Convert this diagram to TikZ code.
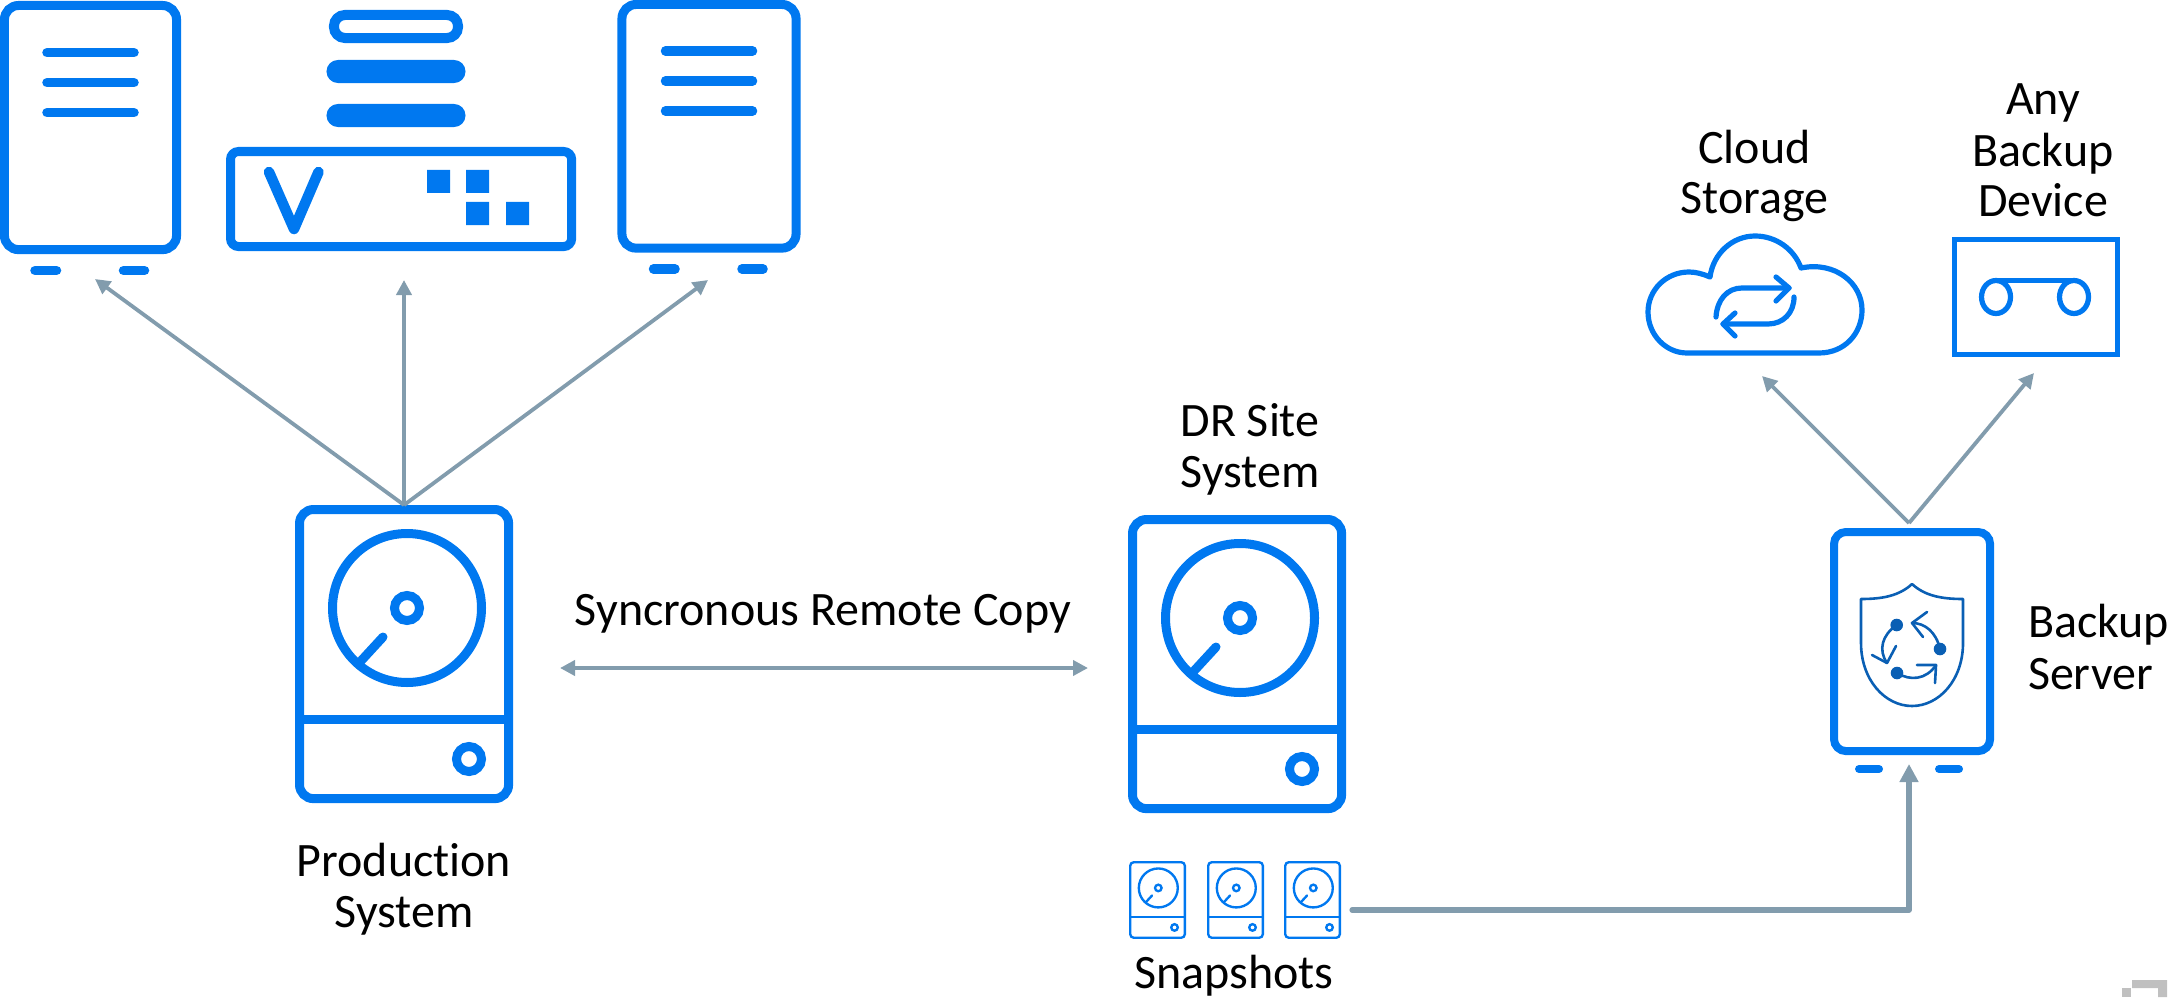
\documentclass[tikz,border=0pt]{standalone}
\usepackage{fontspec}
\setmainfont[Ligatures={NoCommon}]{Carlito}
\usetikzlibrary{arrows.meta}
\definecolor{iconblue}{HTML}{0078F0}
\definecolor{linkgray}{HTML}{829CAD}
\definecolor{shieldblue}{HTML}{0A5FB4}
\definecolor{markgray}{HTML}{C0C0C0}
\def\px{0.2845pt}
\tikzset{
  x=0.01cm,y=-0.01cm,
  iconline/.style={draw=iconblue,line width=9*\px},
  iconbox/.style={draw=iconblue,line width=9*\px,rounded corners=14*\px,inner sep=0pt,outer sep=0pt},
  bar/.style={draw=iconblue,line width=9.5*\px,line cap=round},
  thinicon/.style={draw=iconblue,line width=5.2*\px,line cap=round,line join=round},
  shieldline/.style={draw=shieldblue,line width=2.6*\px,line cap=round,line join=round},
  conn/.style={draw=linkgray,line width=3.8*\px,-{Triangle[length=15*\px,width=15*\px]}},
  conntwo/.style={draw=linkgray,line width=3.8*\px,{Triangle[length=15*\px,width=15*\px]}-{Triangle[length=15*\px,width=15*\px]}},
  connthick/.style={draw=linkgray,line width=5.2*\px,line cap=round,line join=round,-{Triangle[length=18*\px,width=18*\px]}},
  lbl/.style={font=\fontsize{13.65pt}{14.5pt}\selectfont,text=black,align=center,inner sep=0pt,outer sep=0pt},
}
% name, left x, top y (outer edge), scale
\newcommand{\diskicon}[4]{%
  \node[iconbox,line width=#4*9*\px,rounded corners=#4*14*\px,outer sep=#4*4.5*\px,minimum width=#4*209*\px,minimum height=#4*289*\px,anchor=north west] (#1) at (#2,#3) {};
  \begin{scope}[shift={(#2,#3)},iconblue,line width=#4*9*\px]
    \draw ({#4*112},{#4*103}) circle ({#4*74.5});
    \draw ({#4*112},{#4*103}) circle ({#4*12.5});
    \draw[line cap=round] ({#4*65},{#4*157}) -- ({#4*88},{#4*132});
    \draw ({#4*4.5},{#4*214}) -- ({#4*213.5},{#4*214});
    \draw ({#4*174},{#4*254}) circle ({#4*12.5});
  \end{scope}}
\newcommand{\towericon}[6]{% name, centre x, top y stroke, bottom y stroke, first line y, box width
  \node[iconbox,minimum width=#6*\px,minimum height={(#4-#3)*\px},anchor=north] (#1) at (#2,#3) {};
  \draw[bar] ({#2-43.5},#5) -- ({#2+43.5},#5);
  \draw[bar] ({#2-43.5},{#5+30}) -- ({#2+43.5},{#5+30});
  \draw[bar] ({#2-43.5},{#5+60}) -- ({#2+43.5},{#5+60});
  \draw[bar] ({#2-55.5},{#4+21}) -- ({#2-34},{#4+21});
  \draw[bar] ({#2+33},{#4+21}) -- ({#2+54},{#4+21});}
\begin{document}
\begin{tikzpicture}
\useasboundingbox (0,0) rectangle (2170,997);
% servers
\towericon{serverA}{90.5}{5.5}{249.5}{52.7}{172}
\towericon{serverB}{709}{4.5}{248}{51}{174}
% storage appliance
\node[iconbox,rounded corners=8*\px,minimum width=341*\px,minimum height=95*\px,anchor=north west] (array) at (230.5,151.5) {};
\draw[iconblue,line width=10.5*\px,line cap=round,line join=round] (269,172) -- (294,229) -- (318.5,172);
\fill[iconblue] (427,170) rectangle (450,193) (466,170) rectangle (489,193) (466,202) rectangle (489,225) (506,202) rectangle (529,225);
\node[draw=iconblue,line width=10*\px,rounded corners=11*\px,inner sep=0pt,outer sep=0pt,minimum width=124*\px,minimum height=23*\px] (pillA) at (396,26.5) {};
\node[fill=iconblue,rounded corners=11.5*\px,inner sep=0pt,outer sep=0pt,minimum width=139*\px,minimum height=23*\px] (pillB) at (396,71.5) {};
\node[fill=iconblue,rounded corners=11.5*\px,inner sep=0pt,outer sep=0pt,minimum width=139*\px,minimum height=23*\px] (pillC) at (396,115.5) {};
% disks
\diskicon{prod}{295}{505}{1}
\diskicon{dr}{1128}{515}{1}
\diskicon{snapA}{1129}{861}{0.2615}
\diskicon{snapB}{1207}{861}{0.2615}
\diskicon{snapC}{1284}{861}{0.2615}
% backup server
\node[iconbox,line width=8*\px,rounded corners=12*\px,minimum width=156*\px,minimum height=219*\px,anchor=north west] (backup) at (1834,532) {};
\draw[iconblue,line width=8*\px,line cap=round] (1859,769) -- (1879,769);
\draw[iconblue,line width=8*\px,line cap=round] (1939,769) -- (1959,769);
\draw[shieldline] (1912,584) .. controls (1899,596) and (1882,599) .. (1861,599) -- (1861,643) .. controls (1861,680) and (1885,706) .. (1912,706) .. controls (1939,706) and (1963,680) .. (1963,643) -- (1963,599) .. controls (1942,599) and (1925,596) .. (1912,584) -- cycle;
\fill[shieldblue] (1896.7,625) circle (6.3) (1940,649) circle (6.3) (1897,673) circle (6.3);
\draw[shieldline] (1896.7,625) .. controls (1882,635) and (1878,650) .. (1887,663);
\draw[shieldline] (1872,655) -- (1887,663) -- (1896,646);
\draw[shieldline] (1940,649) .. controls (1936,632) and (1925,623) .. (1912,623);
\draw[shieldline] (1927,612) -- (1912,623) -- (1923,637);
\draw[shieldline] (1897,673) .. controls (1910,681) and (1926,680) .. (1936,665);
\draw[shieldline] (1917,665) -- (1936,665) -- (1935,683);
% cloud
\draw[thinicon] (1687,353) -- (1819,353) .. controls (1845,353) and (1862,333) .. (1862,310) .. controls (1862,283) and (1835,261) .. (1801,268) .. controls (1794,249) and (1776,236) .. (1755,236) .. controls (1732,236) and (1713,254) .. (1710,277) .. controls (1703,274) and (1696,272) .. (1689,272) .. controls (1666,272) and (1648,290) .. (1648,312) .. controls (1648,335) and (1666,353) .. (1687,353) -- cycle;
\draw[thinicon] (1716,317) .. controls (1717,300) and (1727,288) .. (1742,288) -- (1789,288);
\draw[thinicon] (1776,277) -- (1789,288) -- (1776,301);
\draw[thinicon] (1794,297) .. controls (1794,313) and (1783,324) .. (1768,324) -- (1723,324);
\draw[thinicon] (1735,313) -- (1723,324) -- (1735,336);
% tape device
\node[draw=iconblue,line width=5.2*\px,inner sep=0pt,outer sep=0pt,minimum width=163*\px,minimum height=115*\px,anchor=north west] (tape) at (1954.5,239.5) {};
\draw[thinicon] (1996,297) ellipse (14.5 and 16.5);
\draw[thinicon] (2074,297) ellipse (14.5 and 16.5);
\draw[thinicon] (1996,280.5) -- (2074,280.5);
% connector ends
\coordinate (tipA) at (95,279);
\coordinate (tipB) at (404,280);
\coordinate (tipC) at (708,280);
\coordinate (linkL) at (560,668);
\coordinate (linkR) at (1088,668);
\coordinate (backupTop) at (1909,523);
\coordinate (tipCloud) at (1762,376);
\coordinate (tipTape) at (2034,373);
\coordinate (snapOut) at (1352,910);
\coordinate (backupIn) at (1909,764);
\draw[conn] (prod.north) -- (tipA);
\draw[conn] (prod.north) -- (tipB);
\draw[conn] (prod.north) -- (tipC);
\draw[conntwo] (linkL) -- (linkR);
\draw[conn] (backupTop) -- (tipCloud);
\draw[conn] (backupTop) -- (tipTape);
\draw[connthick] (snapOut) -| (backupIn);
% labels
\node[lbl,anchor=base] (lblProdA) at (404,876) {Production};
\node[lbl,anchor=base] (lblProdB) at (404,927) {System};
\node[lbl,anchor=base] (lblDrA) at (1250,436) {DR Site};
\node[lbl,anchor=base] (lblDrB) at (1250,487) {System};
\node[lbl,anchor=base] (lblSync) at (823,625) {Syncronous Remote Copy};
\node[lbl,anchor=base] (lblSnap) at (1234,988) {Snapshots};
\node[lbl,anchor=base] (lblCloudA) at (1754.5,163) {Cloud};
\node[lbl,anchor=base] (lblCloudB) at (1754.5,214) {Storage};
\node[lbl,anchor=base] (lblAnyA) at (2043,115) {Any};
\node[lbl,anchor=base] (lblAnyB) at (2043,167) {Backup};
\node[lbl,anchor=base] (lblAnyC) at (2043,217) {Device};
\node[lbl,anchor=base west] (lblBackA) at (2028,637) {Backup};
\node[lbl,anchor=base west] (lblBackB) at (2028,689) {Server};
% corner mark
\fill[markgray] (2132,980) -- (2167,980) -- (2167,997) -- (2158,997) -- (2158,988) -- (2132,988) -- cycle;
\fill[markgray] (2122,988) rectangle (2131,997);
\end{tikzpicture}
\end{document}
